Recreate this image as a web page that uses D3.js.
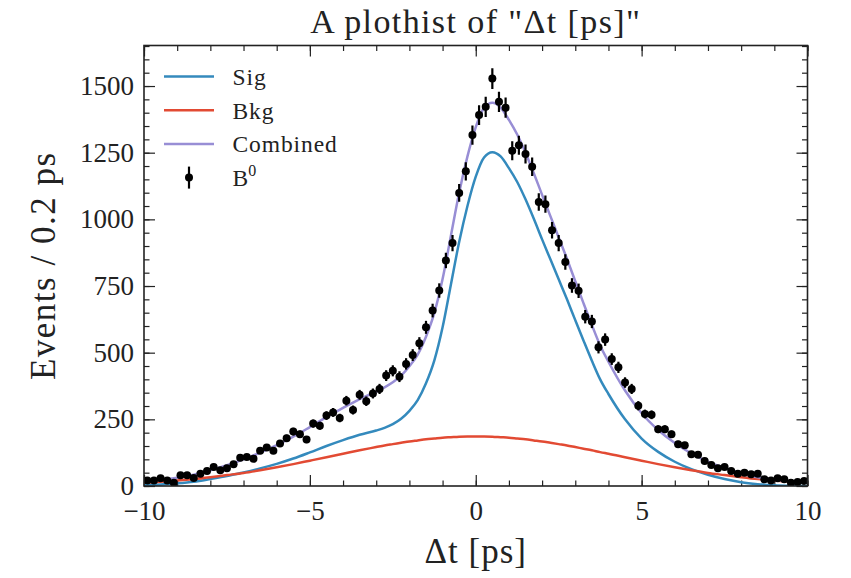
<!DOCTYPE html>
<html lang="en">

<head>
  <meta charset="UTF-8" />
  <title>plothist</title>
  <script src="https://cdn.jsdelivr.net/npm/d3@7"></script>
  <style>
    body { margin: 0; background: #fff; }
    text { font-family: "Liberation Serif", "DejaVu Serif", serif; fill: #222; }
  </style>
</head>

<body>
  <svg id="svg"></svg>
</body>

<script>
  // histogram: 100 bins of 0.2 ps between -10 and 10
  const binEdges = d3.range(-10, 10.0001, 0.2).map(v => +v.toFixed(1));
  const counts = [
    21, 21, 29, 21, 12, 40, 40, 30, 46, 56,
    71, 59, 67, 82, 106, 109, 102, 132, 144, 132,
    159, 179, 204, 194, 174, 234, 226, 264, 276, 255,
    320, 285, 342, 318, 347, 364, 414, 432, 410, 458,
    491, 535, 595, 658, 733, 846, 911, 1099, 1180, 1316,
    1391, 1422, 1528, 1441, 1419, 1257, 1278, 1245, 1197, 1065,
    1057, 959, 911, 840, 752, 732, 635, 617, 520, 549,
    476, 445, 388, 364, 301, 270, 267, 213, 213, 194,
    157, 153, 119, 117, 94, 79, 67, 71, 56, 46,
    50, 44, 46, 25, 21, 29, 25, 12, 15, 19
  ];

  // fitted curves
  const curveX = [
    -10, -9.5, -9, -8.5, -8, -7.5, -7, -6.5, -6, -5.5, -5, -4.5, -4, -3.5, -3,
    -2.75, -2.5, -2.25, -2, -1.75, -1.5, -1.25, -1, -0.75, -0.5, -0.25, 0,
    0.25, 0.5, 0.75, 1, 1.25, 1.5, 1.75, 2, 2.25, 2.5, 2.75, 3, 3.25, 3.5, 3.75, 4,
    4.5, 5, 5.5, 6, 6.5, 7, 7.5, 8, 8.5, 9, 9.5, 10
  ];
  const sig = [
    3, 6, 10, 16, 26, 37, 51, 66, 83, 103, 126, 150, 172, 192, 208,
    218, 232, 252, 282, 322, 385, 470, 595, 755, 915, 1050, 1160,
    1232, 1252, 1236, 1192, 1140, 1075, 1002, 925, 850, 775, 700, 622, 545, 470, 400, 345,
    250, 178, 128, 91, 63, 42, 26, 14, 7, 3, 1, 0
  ];
  const bkg = [
    12, 16, 21, 26, 33, 41, 49, 59, 70, 82, 95, 108, 121, 134, 146,
    152, 157, 162, 167, 171, 175, 178, 181, 183, 185, 186, 186,
    186, 185, 183, 181, 178, 175, 171, 167, 162, 157, 152, 146, 140, 134, 127, 121,
    108, 95, 82, 70, 59, 49, 41, 33, 26, 21, 16, 12
  ];
  const combined = [
    15, 22, 31, 42, 59, 78, 100, 125, 153, 185, 221, 258, 293, 326, 354,
    370, 389, 414, 449, 493, 560, 648, 776, 938, 1100, 1236, 1346,
    1418, 1437, 1419, 1373, 1318, 1250, 1173, 1092, 1012, 932, 852, 768, 685, 604, 527, 466,
    358, 273, 210, 161, 122, 91, 67, 47, 33, 24, 17, 12
  ];

  const xTicks = [-10, -5, 0, 5, 10];
  const yTicks = [0, 250, 500, 750, 1000, 1250, 1500];

  const colors = { sig: "#348ABD", bkg: "#E24A33", combined: "#988ED5" };

  const width = 851;
  const height = 578;
  const margin = { top: 45.5, right: 43.5, bottom: 92, left: 144 };
  const innerWidth = width - margin.left - margin.right;
  const innerHeight = height - margin.top - margin.bottom;

  const svg = d3.select("#svg").attr("width", width).attr("height", height);
  const g = svg.append("g").attr("transform", `translate(${margin.left}, ${margin.top})`);

  const xScale = d3.scaleLinear().domain([-10, 10]).range([0, innerWidth]);
  const yScale = d3.scaleLinear().domain([0, 1652]).range([innerHeight, 0]);

  const fmt = d => d < 0 ? "\u2212" + Math.abs(d) : String(d);

  // axes: inward ticks on all four sides, minor every 1 / 50
  const xMinor = d3.range(-10, 11, 1);
  const yMinor = d3.range(0, 1651, 50);

  function axisGroup(axis, transform) {
    const a = g.append("g").attr("transform", transform).call(axis);
    a.select(".domain").remove();
    a.selectAll("line").attr("stroke", "#222").attr("stroke-width", 1.2);
    a.selectAll("text").attr("font-size", 27).attr("fill", "#222")
      .attr("font-family", '"Liberation Serif", serif');
    return a;
  }

  axisGroup(d3.axisBottom(xScale).tickValues(xMinor).tickSize(-5.5).tickFormat(""), `translate(0, ${innerHeight})`);
  axisGroup(d3.axisTop(xScale).tickValues(xMinor).tickSize(-5.5).tickFormat(""), "translate(0, 0)");
  axisGroup(d3.axisLeft(yScale).tickValues(yMinor).tickSize(-5.5).tickFormat(""), "translate(0, 0)");
  axisGroup(d3.axisRight(yScale).tickValues(yMinor).tickSize(-5.5).tickFormat(""), `translate(${innerWidth}, 0)`);

  axisGroup(d3.axisBottom(xScale).tickValues(xTicks).tickSize(-11).tickPadding(15).tickFormat(fmt), `translate(0, ${innerHeight})`);
  axisGroup(d3.axisTop(xScale).tickValues(xTicks).tickSize(-11).tickFormat(""), "translate(0, 0)");
  axisGroup(d3.axisLeft(yScale).tickValues(yTicks).tickSize(-11).tickPadding(10).tickFormat(fmt), "translate(0, 0)");
  axisGroup(d3.axisRight(yScale).tickValues(yTicks).tickSize(-11).tickFormat(""), `translate(${innerWidth}, 0)`);

  // curves
  const curveData = curveX.map((x, i) => ({ x, sig: sig[i], bkg: bkg[i], combined: combined[i] }));
  const clip = g.append("clipPath").attr("id", "clip").append("rect")
    .attr("width", innerWidth).attr("height", innerHeight);
  const plot = g.append("g").attr("clip-path", "url(#clip)");

  ["sig", "bkg", "combined"].forEach(key => {
    const line = d3.line()
      .curve(d3.curveMonotoneX)
      .x(d => xScale(d.x))
      .y(d => yScale(d[key]));
    plot.append("path")
      .datum(curveData)
      .attr("fill", "none")
      .attr("stroke", colors[key])
      .attr("stroke-width", 2.5)
      .attr("d", line);
  });

  // data points with sqrt(N) error bars
  const points = counts.map((c, i) => ({ x: (binEdges[i] + binEdges[i + 1]) / 2, y: c }));
  plot.selectAll(".err")
    .data(points)
    .enter()
    .append("line")
    .attr("x1", d => xScale(d.x))
    .attr("x2", d => xScale(d.x))
    .attr("y1", d => yScale(d.y + Math.sqrt(d.y)))
    .attr("y2", d => yScale(d.y - Math.sqrt(d.y)))
    .attr("stroke", "#000")
    .attr("stroke-width", 2.2);
  plot.selectAll("circle")
    .data(points)
    .enter()
    .append("circle")
    .attr("cx", d => xScale(d.x))
    .attr("cy", d => yScale(d.y))
    .attr("r", 4)
    .attr("fill", "#000");

  // frame
  g.append("rect")
    .attr("width", innerWidth)
    .attr("height", innerHeight)
    .attr("fill", "none")
    .attr("stroke", "#222")
    .attr("stroke-width", 1.6);

  // legend
  const legend = g.append("g").attr("transform", "translate(20, 31)");
  const entries = [
    { key: "sig", label: "Sig" },
    { key: "bkg", label: "Bkg" },
    { key: "combined", label: "Combined" }
  ];
  entries.forEach((e, i) => {
    legend.append("line")
      .attr("x1", 0).attr("x2", 50)
      .attr("y1", i * 33.7).attr("y2", i * 33.7)
      .attr("stroke", colors[e.key])
      .attr("stroke-width", 2.5);
    legend.append("text")
      .attr("x", 68.5).attr("y", i * 33.7 + 8.5)
      .attr("font-size", 23.5)
      .attr("letter-spacing", 0.9)
      .text(e.label);
  });
  const by = 3 * 33.7;
  legend.append("line")
    .attr("x1", 25).attr("x2", 25)
    .attr("y1", by - 11).attr("y2", by + 11)
    .attr("stroke", "#000").attr("stroke-width", 2.2);
  legend.append("circle").attr("cx", 25).attr("cy", by).attr("r", 4).attr("fill", "#000");
  const bt = legend.append("text").attr("x", 68.5).attr("y", by + 8.5).attr("font-size", 23.5);
  bt.append("tspan").text("B");
  bt.append("tspan").attr("dy", -10).attr("font-size", 16).text("0");

  // titles
  svg.append("text")
    .attr("x", margin.left + innerWidth / 2)
    .attr("y", 33)
    .attr("text-anchor", "middle")
    .attr("font-size", 34)
    .attr("letter-spacing", 1.4)
    .text('A plothist of "\u0394t [ps]"');

  svg.append("text")
    .attr("x", margin.left + innerWidth / 2)
    .attr("y", 563)
    .attr("text-anchor", "middle")
    .attr("font-size", 35)
    .attr("letter-spacing", 1)
    .text("\u0394t [ps]");

  svg.append("text")
    .attr("transform", `translate(55, ${margin.top + innerHeight / 2}) rotate(-90)`)
    .attr("text-anchor", "middle")
    .attr("font-size", 35)
    .attr("letter-spacing", 1.5)
    .text("Events / 0.2 ps");
</script>

</html>
